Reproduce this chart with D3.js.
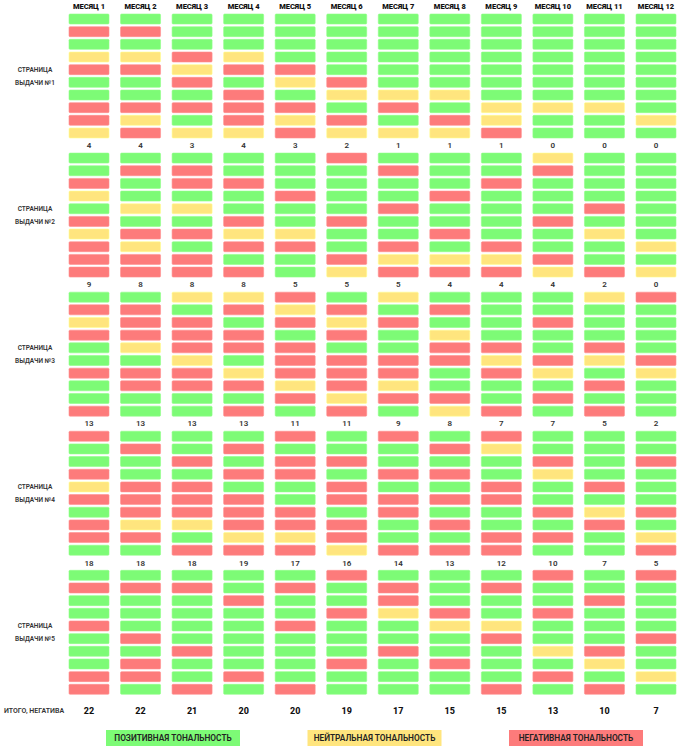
<!DOCTYPE html>
<html>
<head>
<meta charset="utf-8">
<script src="https://cdn.jsdelivr.net/npm/d3@7"></script>
<style>
  html, body { margin: 0; padding: 0; background: #fff; }
  svg { display: block; }
</style>
</head>
<body>
<div id="chart-container"></div>
<script>
// =====================
// Data
// =====================
// G = positive, Y = neutral, R = negative; one string per month, top row first
const MONTHS = ["МЕСЯЦ 1", "МЕСЯЦ 2", "МЕСЯЦ 3", "МЕСЯЦ 4", "МЕСЯЦ 5", "МЕСЯЦ 6",
  "МЕСЯЦ 7", "МЕСЯЦ 8", "МЕСЯЦ 9", "МЕСЯЦ 10", "МЕСЯЦ 11", "МЕСЯЦ 12"];

const PAGE_1 = ["GRGYRGGRRY", "GRGYRGGRYR", "GGGRYRGRGY", "GGGYRGRRRY", "GGGGRYGRYR", "GGGGGRYGRY",
  "GGGGGGYRGY", "GGGGGGYGRY", "GGGGGGGYYR", "GGGGGGGYGG", "GGGGGGGYGG", "GGGGGGGGYG"];
const PAGE_2 = ["GGRYGRYRRR", "GRGGYGRYRR", "GRRGYGRGRR", "GGRGGRYRGR", "GGGRGGYRGG", "RGGGGRGGRY",
  "GRGGRGGRYR", "GGGRGGRGYR", "GGRGGGGRYR", "YRGGGRGGRY", "GGGGRGYGGR", "GGGGGGGYGY"];
const PAGE_3 = ["GRYRGGRGGR", "GRRRYGRRGG", "YGRRRYRRGG", "YRGRRGYRGR", "RYRGRRRYRG", "GRYRGRRRYR",
  "YGRGGRRYRG", "GRGYRRGGRY", "GGGGRYRGGR", "GGRGGRYGRG", "YGGGRYGRGR", "RGGGGRYGGG"];
const PAGE_4 = ["RGGRYRGRRG", "GRGGRRRYRG", "GGRGRRRYGR", "GRGRGRRRYR", "RGRRGGRRYR", "GGRGRRGRRY",
  "RGGRGRRGGR", "GRGRGRGRGR", "RYGGRRGGRR", "GGRYGGRGRG", "GGGGRGYRGG", "GGRGGGRGYR"];
const PAGE_5 = ["GRGGRGGGRR", "GRGGGRGRRG", "GRGGGGRGGR", "GGRGGGGGRG", "GRGGRGGGGR", "RGGRGGGRGG",
  "GRRYGGRGGG", "GGGRYGGRGG", "GRGGYRGGGR", "RGGRGGYGRG", "GGRGGGRYGR", "RGGGGRGGYG"];
const PAGES = [PAGE_1, PAGE_2, PAGE_3, PAGE_4, PAGE_5];

const PAGE_LABELS = ["ВЫДАЧИ №1", "ВЫДАЧИ №2", "ВЫДАЧИ №3", "ВЫДАЧИ №4", "ВЫДАЧИ №5"];

// running count of negatives printed under pages 1-4
const RUNNING_NEG = [
  ["4", "4", "3", "4", "3", "2", "1", "1", "1", "0", "0", "0"],
  ["9", "8", "8", "8", "5", "5", "5", "4", "4", "4", "2", "0"],
  ["13", "13", "13", "13", "11", "11", "9", "8", "7", "7", "5", "2"],
  ["18", "18", "18", "19", "17", "16", "14", "13", "12", "10", "7", "5"]
];
const TOTAL_NEG = ["22", "22", "21", "20", "20", "19", "17", "15", "15", "13", "10", "7"];

const TONES = ["G", "Y", "R"];
const TONE_LABELS = ["ПОЗИТИВНАЯ ТОНАЛЬНОСТЬ", "НЕЙТРАЛЬНАЯ ТОНАЛЬНОСТЬ", "НЕГАТИВНАЯ ТОНАЛЬНОСТЬ"];

// =====================
// SVG setup
// =====================
const svgWidth = 681;
const svgHeight = 750;
const FONT = "Roboto, 'DejaVu Sans', sans-serif";

const svg = d3.select("#chart-container").append("svg")
  .attr("width", svgWidth)
  .attr("height", svgHeight);

const color = d3.scaleOrdinal()
  .domain(TONES)
  .range(["#7dfb76", "#ffe57e", "#fd7b7b"]);

const cellW = 40;
const cellH = 10;

const x = d3.scalePoint()
  .domain(MONTHS)
  .range([89, 656]);

const pageY = d3.scaleLinear().domain([0, 4]).range([14, 570.3]);
const rowY = d3.scaleLinear().domain([0, 9]).range([0, 114]);

// Month headers
svg.append("g").selectAll("text")
  .data(MONTHS)
  .join("text")
  .attr("x", d => x(d))
  .attr("y", 6)
  .attr("dy", "0.35em")
  .attr("text-anchor", "middle")
  .attr("font-family", FONT)
  .attr("font-size", 7.5)
  .attr("font-weight", 900)
  .attr("fill", "#111")
  .text(d => d);

// Cells
const cells = [];
PAGES.forEach((page, p) => {
  page.forEach((col, m) => {
    col.split("").forEach((tone, r) => cells.push({ p, m: MONTHS[m], r, tone }));
  });
});

svg.append("g").selectAll("rect")
  .data(cells)
  .join("rect")
  .attr("x", d => x(d.m) - cellW / 2)
  .attr("y", d => pageY(d.p) + rowY(d.r))
  .attr("width", cellW)
  .attr("height", cellH)
  .attr("rx", 1)
  .attr("fill", d => color(d.tone))
  .attr("stroke", d => d3.color(color(d.tone)).brighter(0.4))
  .attr("stroke-width", 0.6);

// Page labels
const pageLbl = svg.append("g").selectAll("g")
  .data(PAGE_LABELS)
  .join("g")
  .attr("transform", (d, i) => `translate(35,${pageY(i)})`)
  .attr("font-family", FONT)
  .attr("font-size", 6.5)
  .attr("font-weight", 600)
  .attr("fill", "#333")
  .attr("text-anchor", "middle");

pageLbl.append("text")
  .attr("y", rowY(4) + cellH / 2)
  .attr("dy", "0.35em")
  .text("СТРАНИЦА");

pageLbl.append("text")
  .attr("y", rowY(5) + cellH / 2)
  .attr("dy", "0.35em")
  .text(d => d);

// Running negative counts
RUNNING_NEG.forEach((row, p) => {
  svg.append("g").selectAll("text")
    .data(row)
    .join("text")
    .attr("x", (d, i) => x(MONTHS[i]))
    .attr("y", pageY(p) + 131.5)
    .attr("dy", "0.35em")
    .attr("text-anchor", "middle")
    .attr("font-family", FONT)
    .attr("font-size", 8)
    .attr("font-weight", 600)
    .attr("fill", "#333")
    .text(d => d);
});

// Totals
svg.append("text")
  .attr("x", 4)
  .attr("y", 711)
  .attr("dy", "0.35em")
  .attr("font-family", FONT)
  .attr("font-size", 7)
  .attr("font-weight", 600)
  .attr("fill", "#333")
  .text("ИТОГО, НЕГАТИВА");

svg.append("g").selectAll("text")
  .data(TOTAL_NEG)
  .join("text")
  .attr("x", (d, i) => x(MONTHS[i]))
  .attr("y", 711)
  .attr("dy", "0.35em")
  .attr("text-anchor", "middle")
  .attr("font-family", FONT)
  .attr("font-size", 9)
  .attr("font-weight", 800)
  .attr("fill", "#111")
  .text(d => d);

// Legend
const legendX = d3.scalePoint().domain(TONES).range([173, 576]);
const legend = svg.append("g").selectAll("g")
  .data(TONES)
  .join("g")
  .attr("transform", d => `translate(${legendX(d)},738)`);

legend.append("rect")
  .attr("x", -67)
  .attr("y", -8)
  .attr("width", 134)
  .attr("height", 16)
  .attr("fill", d => color(d));

legend.append("text")
  .attr("text-anchor", "middle")
  .attr("dy", "0.35em")
  .attr("font-family", FONT)
  .attr("font-size", 8.3)
  .attr("font-weight", 600)
  .attr("fill", "#222")
  .text((d, i) => TONE_LABELS[i]);
</script>
</body>
</html>
